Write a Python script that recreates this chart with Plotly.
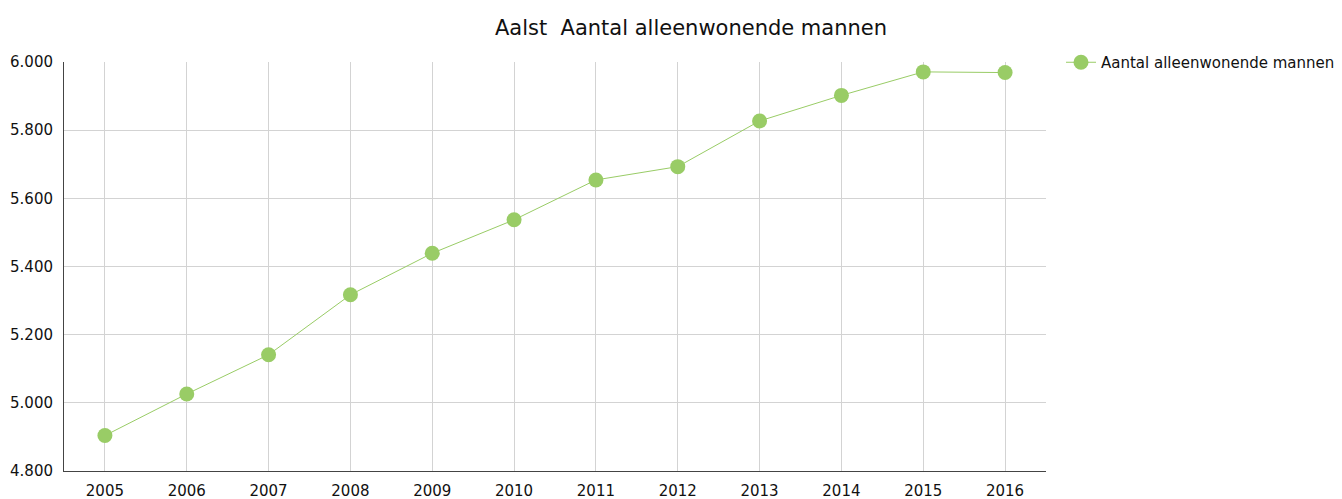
import plotly.graph_objects as go

years = ["2005", "2006", "2007", "2008", "2009", "2010", "2011", "2012", "2013", "2014", "2015", "2016"]
values = [4904, 5026, 5141, 5317, 5439, 5537, 5654, 5693, 5827, 5902, 5971, 5969]
series_name = "Aantal alleenwonende mannen"
title_text = "Aalst  Aantal alleenwonende mannen"
y_ticks = [4800, 5000, 5200, 5400, 5600, 5800, 6000]

green = "#99cc66"
font_family = "DejaVu Sans"
text_color = "#111111"

W, H = 1342, 499

fig = go.Figure()
fig.add_trace(go.Scatter(
    x=years, y=values, name=series_name, mode="lines+markers",
    line=dict(color=green, width=1),
    marker=dict(color=green, size=15),
    showlegend=True,
))

fig.update_layout(
    width=W, height=H,
    autosize=False,
    paper_bgcolor="white", plot_bgcolor="white",
    separators=",.",
    font=dict(family=font_family, size=15, color=text_color),
    margin=dict(l=64, r=296, t=62, b=28, autoexpand=False),
    title=dict(text=title_text, x=691 / W, xref="container", xanchor="center",
               y=1 - 28 / H, yref="container", yanchor="middle",
               font=dict(family=font_family, size=21, color=text_color)),
    legend=dict(x=1061 / W, xref="container", xanchor="left",
                y=1 - 46 / H, yref="container", yanchor="top",
                font=dict(family=font_family, size=15, color=text_color),
                bgcolor="rgba(0,0,0,0)", itemwidth=30),
    xaxis=dict(type="category", range=[-0.5, 11.5], showgrid=True, gridcolor="#d3d3d3",
               gridwidth=1, showline=True, linecolor="#444444", linewidth=1,
               ticks="", tickfont=dict(size=15), zeroline=False, automargin=False,
               ticklabelstandoff=6),
    yaxis=dict(range=[4800, 6000], tickvals=y_ticks, tickformat=",d", showgrid=True,
               gridcolor="#d3d3d3", gridwidth=1, showline=True, linecolor="#444444",
               linewidth=1, ticks="", tickfont=dict(size=15), zeroline=False,
               automargin=False, ticklabelstandoff=7),
)

fig.write_html("out.html", config={"displayModeBar": False},
               post_script="document.body.style.margin='0';")
